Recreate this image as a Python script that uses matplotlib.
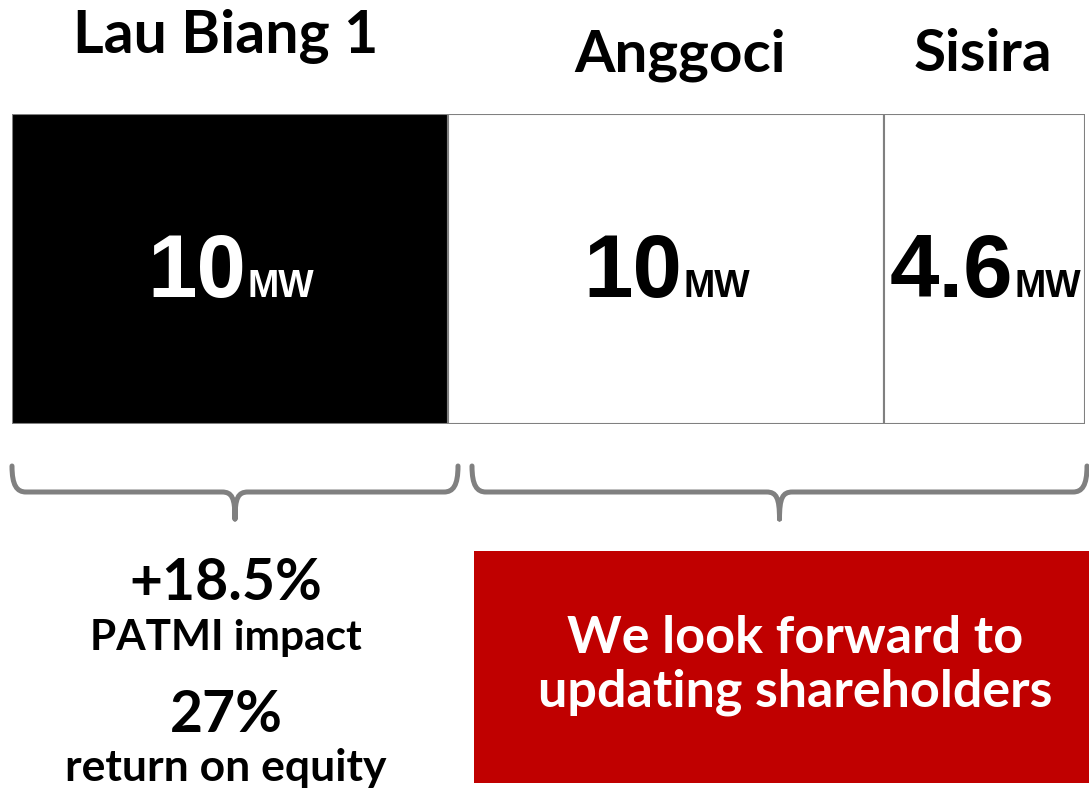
import matplotlib.pyplot as plt
from matplotlib.path import Path
from matplotlib.patches import PathPatch, Rectangle

# datos
proyectos = ['Lau Biang 1', 'Anggoci', 'Sisira']
capacidad_mw = [10, 10, 4.6]
etiquetas_mw = ['10', '10', '4.6']
colores = ['#000000', '#ffffff', '#ffffff']
color_num = ['#ffffff', '#000000', '#000000']

metricas_valor = ['+18.5%', '27%']
metricas_texto = ['PATMI impact', 'return on equity']
mensaje = ['We look forward to', 'updating shareholders']

W, H = 1089, 792
fig = plt.figure(figsize=(W / 100, H / 100), dpi=100)
fig.patch.set_facecolor('white')

# barra apilada horizontal
ax_bar = fig.add_axes([12 / W, 1 - 424 / H, (1085 - 12) / W, (424 - 114) / H])
lefts = [sum(capacidad_mw[:i]) for i in range(len(capacidad_mw))]
ax_bar.barh(0, capacidad_mw, left=lefts, height=1, color=colores,
            edgecolor='#808080', linewidth=1.5)
ax_bar.set_xlim(0, sum(capacidad_mw))
ax_bar.set_ylim(-0.5, 0.5)
ax_bar.axis('off')

# capa de anotaciones en pixeles
ax = fig.add_axes([0, 0, 1, 1])
ax.set_xlim(0, W)
ax.set_ylim(H, 0)
ax.axis('off')
ax.patch.set_alpha(0)

font_cal = 'Lato'
font_num = 'Liberation Sans'

# titulos de proyecto
ax.text(226, 53, proyectos[0], ha='center', va='baseline', fontsize=42.5,
        fontweight='bold', family=font_cal)
ax.text(680, 71, proyectos[1], ha='center', va='baseline', fontsize=42,
        fontweight='bold', family=font_cal)
ax.text(983, 71, proyectos[2], ha='center', va='baseline', fontsize=42,
        fontweight='bold', family=font_cal)

# numeros dentro de la barra
fig.canvas.draw()
renderer = fig.canvas.get_renderer()
for i, val in enumerate(etiquetas_mw):
    centro_dato = lefts[i] + capacidad_mw[i] / 2
    cx = ax.transData.inverted().transform(
        ax_bar.transData.transform((centro_dato, 0)))[0]
    t1 = ax.text(0, 297, val, ha='left', va='baseline', fontsize=64,
                 fontweight='bold', family=font_num, color=color_num[i])
    t2 = ax.text(0, 297, 'MW', ha='left', va='baseline', fontsize=27,
                 fontweight='bold', family=font_num, color=color_num[i])
    w1 = t1.get_window_extent(renderer).width
    w2 = t2.get_window_extent(renderer).width
    x0 = cx - (w1 + w2) / 2
    t1.set_x(x0)
    t2.set_x(x0 + w1 + 1)


def llave(x0, x1, ytop=466, ymid=492, ytip=519, r=14, r2=13):
    xc = (x0 + x1) / 2
    verts = [
        (x0, ytop), (x0, ytop + 0.75 * (ymid - ytop)), (x0 + 0.35 * r, ymid), (x0 + r, ymid),
        (xc - r2, ymid),
        (xc - 3, ymid), (xc, ymid + 6), (xc, ytip),
        (x1, ytop), (x1, ytop + 0.75 * (ymid - ytop)), (x1 - 0.35 * r, ymid), (x1 - r, ymid),
        (xc + r2, ymid),
        (xc + 3, ymid), (xc, ymid + 6), (xc, ytip),
    ]
    codes = [Path.MOVETO, Path.CURVE4, Path.CURVE4, Path.CURVE4,
             Path.LINETO,
             Path.CURVE4, Path.CURVE4, Path.CURVE4,
             Path.MOVETO, Path.CURVE4, Path.CURVE4, Path.CURVE4,
             Path.LINETO,
             Path.CURVE4, Path.CURVE4, Path.CURVE4]
    ax.add_patch(PathPatch(Path(verts, codes), facecolor='none', edgecolor='#808080',
                           linewidth=3.6, capstyle='round', joinstyle='round'))


llave(12, 458)
llave(472, 1087)

# metricas Lau Biang
ax.text(226, 600, metricas_valor[0], ha='center', va='baseline', fontsize=41,
        fontweight='bold', family=font_cal)
ax.text(226, 650, metricas_texto[0], ha='center', va='baseline', fontsize=30.5,
        fontweight='bold', family=font_cal)
ax.text(226, 732, metricas_valor[1], ha='center', va='baseline', fontsize=41,
        fontweight='bold', family=font_cal)
ax.text(226, 781, metricas_texto[1], ha='center', va='baseline', fontsize=32,
        fontweight='bold', family=font_cal)

# caja roja
ax.add_patch(Rectangle((474, 551), W - 474, 783 - 551, facecolor='#C00000',
                       edgecolor='none'))
ax.text(795, 653, mensaje[0], ha='center', va='baseline', fontsize=37.5,
        fontweight='bold', family=font_cal, color='white')
ax.text(795, 707, mensaje[1], ha='center', va='baseline', fontsize=37.5,
        fontweight='bold', family=font_cal, color='white')

fig.savefig('out.png', dpi=100)
